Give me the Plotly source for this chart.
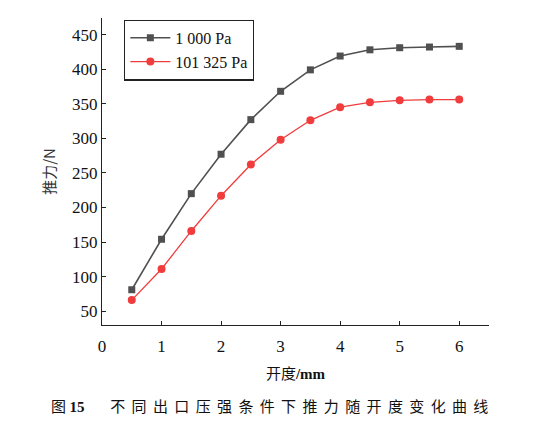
import plotly.graph_objects as go

opening_mm = [0.5, 1.0, 1.5, 2.0, 2.5, 3.0, 3.5, 4.0, 4.5, 5.0, 5.5, 6.0]
thrust_1000pa = [81, 154, 220, 277, 327, 368, 399, 419, 428, 431, 432, 433]
thrust_101325pa = [66, 111, 166, 217, 262, 298, 326, 345, 352, 355, 356, 356]
series_names = ["1 000 Pa", "101 325 Pa"]
x_ticks = [0, 1, 2, 3, 4, 5, 6]
y_ticks = [50, 100, 150, 200, 250, 300, 350, 400, 450]
caption_no = "15"
caption_text = "不同出口压强条件下推力随开度变化曲线"

serif = "Liberation Serif"
cjk = "Noto Sans CJK SC"

# the page body adds an 8px offset; plot area in window: x 102..489, y 18..325
OFF = 8
W, H = 543, 426
L, R, T, B = 102 - OFF, W - (489 - OFF), 18 - OFF, H - (325 - OFF)

fig = go.Figure()
fig.add_trace(go.Scatter(
    x=opening_mm, y=thrust_1000pa, name=series_names[0], mode="lines+markers",
    line=dict(color="#505050", width=1.6),
    marker=dict(symbol="square", size=7, color="#505050"),
))
fig.add_trace(go.Scatter(
    x=opening_mm, y=thrust_101325pa, name=series_names[1], mode="lines+markers",
    line=dict(color="#f03c3c", width=1.3),
    marker=dict(symbol="circle", size=8, color="#f03c3c"),
))

fig.update_layout(
    width=W, height=H,
    margin=dict(l=L, r=R, t=T, b=B, autoexpand=False),
    paper_bgcolor="white", plot_bgcolor="white",
    showlegend=True,
    legend=dict(
        x=0.057, y=0.995, xanchor="left", yanchor="top",
        bordercolor="#222", borderwidth=1.3, bgcolor="white",
        font=dict(family=serif, size=16, color="#111"),
        tracegroupgap=0, itemwidth=40,
    ),
    font=dict(family=serif, size=16, color="#111"),
)

fig.update_xaxes(
    range=[0, 6.5], tickvals=x_ticks, ticktext=[str(v) for v in x_ticks],
    showgrid=False, zeroline=False, showline=True, linecolor="#222", linewidth=1.3,
    ticks="inside", ticklen=4, tickcolor="#222", tickwidth=1.3,
    tickfont=dict(family=serif, size=17, color="#111"),
    ticklabelstandoff=5,
    automargin=False,
    title=dict(text="开度<span style='font-family:Liberation Serif'><b>/mm</b></span>",
               font=dict(family=cjk, size=15, color="#111"), standoff=13),
)
fig.update_yaxes(
    range=[30, 474], tickvals=y_ticks, ticktext=[str(v) for v in y_ticks],
    showgrid=False, zeroline=False, showline=True, linecolor="#222", linewidth=1.3,
    ticks="inside", ticklen=4, tickcolor="#222", tickwidth=1.3,
    tickfont=dict(family=serif, size=17, color="#111"),
    automargin=False,
    title=dict(text="推力/N", font=dict(family=cjk, size=15, color="#333"), standoff=12),
)

sep = " \u2009"
caption = ("图 <span style='font-family:Liberation Serif'><b>" + caption_no + "</b></span>"
           + "\u2003\u2002 " + sep.join(caption_text))
fig.add_annotation(
    text=caption,
    xref="paper", yref="paper",
    x=(269.5 - 102) / (489 - 102), y=-(405 - 325) / (325 - 18),
    xanchor="center", yanchor="middle",
    showarrow=False, font=dict(family=cjk, size=15, color="#111"),
)

fig.write_html("out.html")
